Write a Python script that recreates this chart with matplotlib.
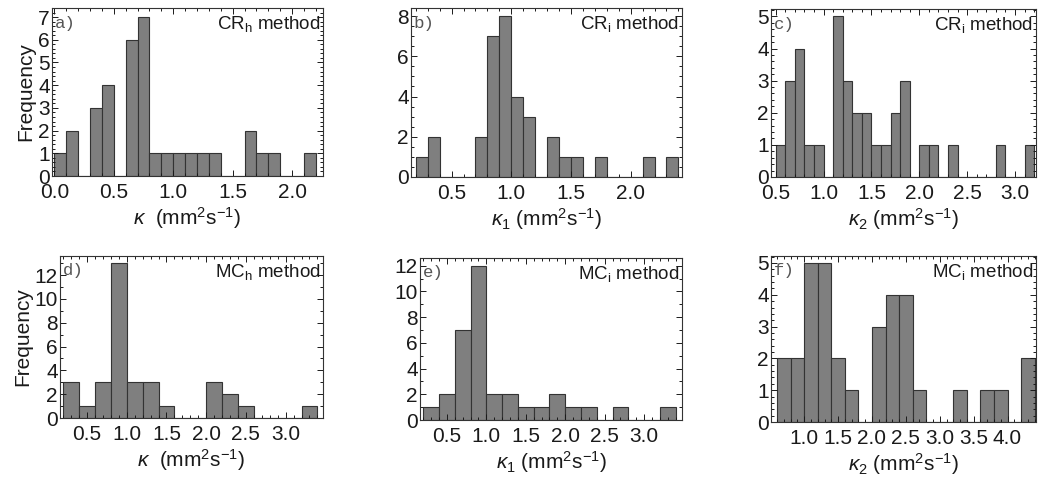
import numpy as np
import matplotlib
matplotlib.use("Agg")
import matplotlib.pyplot as plt
from matplotlib.ticker import MultipleLocator, FormatStrFormatter

plt.rcParams['font.family'] = ['Liberation Sans', 'DejaVu Sans']
plt.rcParams['mathtext.fontset'] = 'custom'
plt.rcParams['mathtext.rm'] = 'Liberation Sans'
plt.rcParams['mathtext.it'] = 'Liberation Sans:italic'
plt.rcParams['mathtext.bf'] = 'Liberation Sans:bold'

# ---- histogram counts (bin start, bin width, counts) ----
a_start, a_width = 0.0, 0.1
a_counts = [1, 2, 0, 3, 4, 0, 6, 7, 1, 1, 1, 1, 1, 1, 0, 0, 2, 1, 1, 0, 0, 1]

b_start, b_width = 0.2, 0.1
b_counts = [1, 2, 0, 0, 0, 2, 7, 8, 4, 3, 0, 2, 1, 1, 0, 1, 0, 0, 0, 1, 0, 1]

c_start, c_width = 0.5, 0.1
c_counts = [1, 3, 4, 1, 1, 0, 5, 3, 2, 2, 1, 1, 2, 3, 0, 1, 1, 0, 1,
            0, 0, 0, 0, 1, 0, 0, 1]

d_start, d_width = 0.2, 0.2
d_counts = [3, 1, 3, 13, 3, 3, 1, 0, 0, 3, 2, 1, 0, 0, 0, 1]

e_start, e_width = 0.2, 0.2
e_counts = [1, 2, 7, 12, 2, 2, 1, 1, 2, 1, 1, 0, 1, 0, 0, 1]

f_start, f_width = 0.6, 0.2
f_counts = [2, 2, 5, 5, 2, 1, 0, 3, 4, 4, 1, 0, 0, 1, 0, 1, 1, 0, 2]

panel_letters = ['a)', 'b)', 'c)', 'd)', 'e)', 'f)']
method_labels = [r'CR$_\mathrm{h}$ method', r'CR$_\mathrm{i}$ method', r'CR$_\mathrm{i}$ method',
                 r'MC$_\mathrm{h}$ method', r'MC$_\mathrm{i}$ method', r'MC$_\mathrm{i}$ method']
x_labels = [r'$\kappa$  (mm$^2$s$^{-1}$)', r'$\kappa_1$ (mm$^2$s$^{-1}$)', r'$\kappa_2$ (mm$^2$s$^{-1}$)',
            r'$\kappa$  (mm$^2$s$^{-1}$)', r'$\kappa_1$ (mm$^2$s$^{-1}$)', r'$\kappa_2$ (mm$^2$s$^{-1}$)']

x_ticks = [[0.0, 0.5, 1.0, 1.5, 2.0],
           [0.5, 1.0, 1.5, 2.0],
           [0.5, 1.0, 1.5, 2.0, 2.5, 3.0],
           [0.5, 1.0, 1.5, 2.0, 2.5, 3.0],
           [0.5, 1.0, 1.5, 2.0, 2.5, 3.0],
           [1.0, 1.5, 2.0, 2.5, 3.0, 3.5, 4.0]]
y_ticks = [list(range(0, 8)), list(range(0, 9, 2)), list(range(0, 6)),
           list(range(0, 13, 2)), list(range(0, 13, 2)), list(range(0, 6))]

W, H = 1038, 482
# axes boxes in pixels: left, right, top, bottom
boxes = [(52, 323, 8, 176), (411, 682, 8, 177), (771, 1036, 9, 177),
         (60, 323, 256, 418), (420, 682, 258, 420), (771, 1036, 256, 422)]
xlims = [(-0.02, 2.26), (0.16, 2.43), (0.45, 3.22),
         (0.16, 3.47), (0.16, 3.48), (0.51, 4.42)]
ylims = [7.4, 8.4, 5.23, 13.6, 12.6, 5.22]
y_minor = [0.2, 0.5, 0.2, 1.0, 1.0, 0.2]

hists = [(a_start, a_width, a_counts), (b_start, b_width, b_counts),
         (c_start, c_width, c_counts), (d_start, d_width, d_counts),
         (e_start, e_width, e_counts), (f_start, f_width, f_counts)]

fig = plt.figure(figsize=(W / 100, H / 100), dpi=100)

for i, ((start, width, counts), box) in enumerate(zip(hists, boxes)):
    l, r, t, b = box
    ax = fig.add_axes([l / W, 1 - b / H, (r - l) / W, (b - t) / H])
    counts = np.asarray(counts)
    lefts = start + width * np.arange(len(counts))
    ax.bar(lefts, counts, width=width, align='edge',
           facecolor='#7f7f7f', edgecolor='#333333', linewidth=0.8)
    ax.set_xlim(*xlims[i])
    ax.set_ylim(0, ylims[i])
    ax.set_xticks(x_ticks[i])
    ax.set_yticks(y_ticks[i])
    ax.xaxis.set_major_formatter(FormatStrFormatter('%.1f'))
    ax.xaxis.set_minor_locator(MultipleLocator(0.1))
    ax.yaxis.set_minor_locator(MultipleLocator(y_minor[i]))
    ax.tick_params(which='both', direction='in', top=True, right=True,
                   labelsize=15, colors='#1a1a1a', width=0.7)
    ax.tick_params(which='major', length=4)
    ax.tick_params(which='minor', length=2)
    ax.tick_params(axis='x', pad=5)
    ax.tick_params(axis='y', pad=1.5)
    for s in ax.spines.values():
        s.set_linewidth(0.8)
        s.set_color('#333333')
    ax.set_xlabel(x_labels[i], fontsize=15, labelpad=2, color='#1a1a1a')
    if i in (0, 3):
        ax.set_ylabel('Frequency', fontsize=15, labelpad=2, color='#1a1a1a')
    ax.text(0.01, 0.955, panel_letters[i], transform=ax.transAxes,
            ha='left', va='top', fontsize=12.5, color='#555555',
            family=['Liberation Mono', 'DejaVu Sans Mono'])
    ax.text(0.99, 0.965, method_labels[i], transform=ax.transAxes,
            ha='right', va='top', fontsize=13.5, color='#1a1a1a')

fig.savefig('out.png', dpi=100)
